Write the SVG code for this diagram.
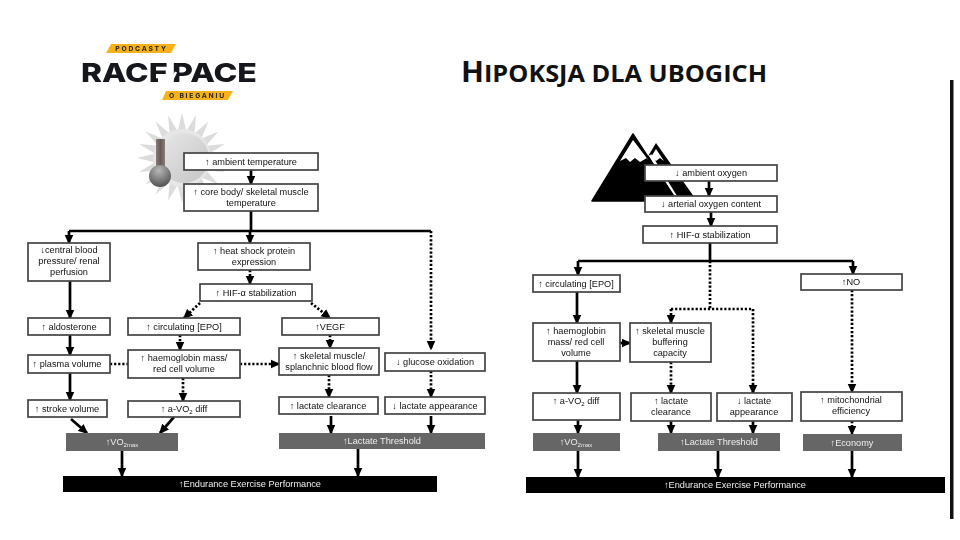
<svg xmlns="http://www.w3.org/2000/svg" xmlns:xlink="http://www.w3.org/1999/xlink" width="960" height="540" viewBox="0 0 960 540">
<style>
#art{filter:blur(0.65px)}
#logo{filter:blur(0.6px)}
.n{fill:#fff;stroke:#444;stroke-width:1.7}
.g{fill:#666}
.k{fill:#000}
.t{font:9.2px "Liberation Sans",Arial,sans-serif;fill:#111;text-anchor:middle}
.w{font:9.2px "Liberation Sans",Arial,sans-serif;fill:#eee;text-anchor:middle}
.s{fill:none;stroke:#000;stroke-width:2.7}
.d{fill:none;stroke:#000;stroke-width:2.7;stroke-dasharray:2.2 1.9}
.a{marker-end:url(#h)}
.logo{font-family:"Inter","Liberation Sans",sans-serif;font-weight:800;fill:#15171c}
.tag{font:700 6.8px "Inter","Liberation Sans",sans-serif;letter-spacing:1.75px;fill:#222;text-anchor:middle}
</style>
<defs>
<marker id="h" markerUnits="userSpaceOnUse" markerWidth="11" markerHeight="10" refX="8.5" refY="5" orient="auto"><path d="M0 .5L10 5L0 9.500Z" fill="#000"/></marker>
<linearGradient id="disk" x1="0" y1="0" x2="1" y2="1"><stop offset="0" stop-color="#e8e8e8"/><stop offset="1" stop-color="#c4c4c4"/></linearGradient>
<linearGradient id="stem" x1="0" y1="0" x2="1" y2="0"><stop offset="0" stop-color="#8a7d78"/><stop offset=".5" stop-color="#645a58"/><stop offset="1" stop-color="#8a7d78"/></linearGradient>
<radialGradient id="bulb" cx=".45" cy=".25" r=".85"><stop offset="0" stop-color="#b8b8b8"/><stop offset="1" stop-color="#454545"/></radialGradient>
<path id="sp" d="M177.500 132L182 113L186.500 132Z" fill="#dcdcdc"/>
</defs>

<g id="logo">
<path d="M111 44H176L171 53H106Z" fill="#f5b21c"/>
<text class="tag" x="141.500" y="51">PODCASTY</text>
<text class="logo" x="81" y="82" font-size="26" textLength="87" lengthAdjust="spacingAndGlyphs">RACE</text>
<path d="M158 77H170V84H158Z" fill="#fff"/>
<text class="logo" x="172" y="82" font-size="26" textLength="85" lengthAdjust="spacingAndGlyphs">PACE</text>
<path d="M176 72L170 84" stroke="#fff" stroke-width="2.500"/>
<path d="M166 91H233L228 100H162Z" fill="#f5b21c"/>
<text class="tag" x="197.500" y="98">O BIEGANIU</text>
</g>

<text id="title" x="461" y="82" font-family="'Open Sans','Liberation Sans',Arial,sans-serif" font-weight="700" font-size="28.500" fill="#111" textLength="306" lengthAdjust="spacingAndGlyphs">H<tspan font-size="24">IPOKSJA DLA UBOGICH</tspan></text>

<rect id="divider" x="950" y="80" width="3.500" height="439" fill="#111"/>

<g id="art">
<g id="sun">
<use xlink:href="#sp"/><use xlink:href="#sp" transform="rotate(18 182 158)"/><use xlink:href="#sp" transform="rotate(36 182 158)"/><use xlink:href="#sp" transform="rotate(54 182 158)"/><use xlink:href="#sp" transform="rotate(72 182 158)"/><use xlink:href="#sp" transform="rotate(90 182 158)"/><use xlink:href="#sp" transform="rotate(108 182 158)"/><use xlink:href="#sp" transform="rotate(126 182 158)"/><use xlink:href="#sp" transform="rotate(144 182 158)"/><use xlink:href="#sp" transform="rotate(162 182 158)"/><use xlink:href="#sp" transform="rotate(180 182 158)"/><use xlink:href="#sp" transform="rotate(198 182 158)"/><use xlink:href="#sp" transform="rotate(216 182 158)"/><use xlink:href="#sp" transform="rotate(234 182 158)"/><use xlink:href="#sp" transform="rotate(252 182 158)"/><use xlink:href="#sp" transform="rotate(270 182 158)"/><use xlink:href="#sp" transform="rotate(288 182 158)"/><use xlink:href="#sp" transform="rotate(306 182 158)"/><use xlink:href="#sp" transform="rotate(324 182 158)"/><use xlink:href="#sp" transform="rotate(342 182 158)"/>
<circle cx="182" cy="158" r="29" fill="#e6e6e6"/>
<circle cx="184" cy="158" r="25" fill="url(#disk)"/>
<rect x="156" y="139" width="9" height="32" fill="url(#stem)"/>
<circle cx="160" cy="176" r="11" fill="url(#bulb)"/>
</g>
<g id="mountains">
<path d="M656 143L641 168L680 201H697Z" fill="#000"/>
<path d="M656 149L651 157L656 161L660 158L664 161Z" fill="#fff"/>
<path d="M650 155L679 202" stroke="#fff" stroke-width="3" fill="none"/>
<path d="M633 134L592 201H677Z" fill="#000" stroke="#000" stroke-width="1.500" stroke-linejoin="round"/>
<path d="M633 140L620 161L626 158L630 162L635 158L640 162L647 158L649 161Z" fill="#fff"/>
</g>

<g id="connectors">
<path class="s a" d="M251 170V184"/>
<path class="s" d="M251 211V231"/>
<path class="s" d="M69 231H431"/>
<path class="s a" d="M69 231V243"/>
<path class="s a" d="M250 231V243"/>
<path class="d a" d="M431 231V349"/>
<path class="d a" d="M250 270V284"/>
<path class="d a" d="M200 303L184 318"/>
<path class="d a" d="M311 303L330 318"/>
<path class="s a" d="M70 281V318"/>
<path class="s a" d="M70 335V355"/>
<path class="s a" d="M70 373V400"/>
<path class="d a" d="M180 335V350"/>
<path class="d a" d="M330 335V348"/>
<path class="d" d="M110 364H128"/>
<path class="d a" d="M240 364H279"/>
<path class="d a" d="M183 378V401"/>
<path class="d a" d="M329 375V397"/>
<path class="d a" d="M431 371V397"/>
<path class="s a" d="M71 419L87 433"/>
<path class="s a" d="M174 417L160 433"/>
<path class="s a" d="M331 416V433"/>
<path class="s a" d="M431 416V433"/>
<path class="s a" d="M122 451V476"/>
<path class="s a" d="M358 449V476"/>

<path class="s a" d="M709 181V196"/>
<path class="s a" d="M711 212V226"/>
<path class="s" d="M710 243V261"/>
<path class="s" d="M578 261H853"/>
<path class="s a" d="M578 261V275"/>
<path class="s a" d="M853 261V274"/>
<path class="d" d="M710 261V309"/>
<path class="d" d="M671 309H753"/>
<path class="d a" d="M671 309V323"/>
<path class="d a" d="M753 309V393"/>
<path class="s a" d="M577 292V323"/>
<path class="s a" d="M577 361V393"/>
<path class="s a" d="M620 343H630"/>
<path class="d a" d="M671 362V393"/>
<path class="d a" d="M852 290V392"/>
<path class="s a" d="M578 420V433"/>
<path class="s a" d="M671 421V433"/>
<path class="s a" d="M753 421V433"/>
<path class="d a" d="M852 421V434"/>
<path class="s a" d="M578 451V477"/>
<path class="s a" d="M718 450V477"/>
<path class="s a" d="M852 451V477"/>
</g>

<g id="n1"><rect class="n" x="184" y="153" width="134" height="17"/><text class="t" x="251" y="164.500">↑ ambient temperature</text></g>
<g id="n2"><rect class="n" x="184" y="184" width="134" height="27"/><text class="t" x="251" y="195">↑ core body/ skeletal muscle</text><text class="t" x="251" y="206">temperature</text></g>
<g id="n3"><rect class="n" x="28" y="243" width="82" height="38"/><text class="t" x="69" y="253">↓central blood</text><text class="t" x="69" y="264">pressure/ renal</text><text class="t" x="69" y="275">perfusion</text></g>
<g id="n4"><rect class="n" x="198" y="243" width="112" height="27"/><text class="t" x="254" y="253.500">↑ heat shock protein</text><text class="t" x="254" y="264.500">expression</text></g>
<g id="n5"><rect class="n" x="200" y="284" width="112" height="17"/><text class="t" x="256" y="295.500">↑ HIF-α stabilization</text></g>
<g id="n6"><rect class="n" x="28" y="318" width="82" height="17"/><text class="t" x="69" y="329.500">↑ aldosterone</text></g>
<g id="n7"><rect class="n" x="128" y="318" width="112" height="17"/><text class="t" x="184" y="329.500">↑ circulating [EPO]</text></g>
<g id="n8"><rect class="n" x="282" y="318" width="97" height="17"/><text class="t" x="330" y="329.500">↑VEGF</text></g>
<g id="n9"><rect class="n" x="28" y="355" width="82" height="18"/><text class="t" x="67" y="367">↑ plasma volume</text></g>
<g id="n10"><rect class="n" x="128" y="350" width="112" height="28"/><text class="t" x="184" y="361">↑ haemoglobin mass/</text><text class="t" x="184" y="372">red cell volume</text></g>
<g id="n11"><rect class="n" x="279" y="348" width="100" height="27"/><text class="t" x="329" y="359">↑ skeletal muscle/</text><text class="t" x="329" y="370">splanchnic blood flow</text></g>
<g id="n12"><rect class="n" x="385" y="353" width="100" height="18"/><text class="t" x="435" y="365">↓ glucose oxidation</text></g>
<g id="n13"><rect class="n" x="28" y="400" width="79" height="17"/><text class="t" x="67" y="411.500">↑ stroke volume</text></g>
<g id="n14"><rect class="n" x="128" y="401" width="112" height="16"/><text class="t" x="184" y="412">↑ a-VO<tspan font-size="6" dy="2">2</tspan><tspan dy="-2"> diff</tspan></text></g>
<g id="n15"><rect class="n" x="279" y="397" width="99" height="17"/><text class="t" x="328" y="408.500">↑ lactate clearance</text></g>
<g id="n16"><rect class="n" x="385" y="397" width="100" height="17"/><text class="t" x="435" y="408.500">↓ lactate appearance</text></g>
<g id="n17"><rect class="g" x="66" y="433" width="112" height="18"/><text class="w" x="122" y="445">↑VO<tspan font-size="6" dy="2">2max</tspan></text></g>
<g id="n18"><rect class="g" x="279" y="433" width="206" height="16"/><text class="w" x="382" y="444">↑Lactate Threshold</text></g>
<g id="n19"><rect class="k" x="63" y="476" width="374" height="16"/><text class="w" x="250" y="487">↑Endurance Exercise Performance</text></g>

<g id="r1"><rect class="n" x="645" y="165" width="132" height="16"/><text class="t" x="711" y="176">↓ ambient oxygen</text></g>
<g id="r2"><rect class="n" x="645" y="196" width="132" height="16"/><text class="t" x="711" y="207">↓ arterial oxygen content</text></g>
<g id="r3"><rect class="n" x="643" y="226" width="134" height="17"/><text class="t" x="710" y="237.500">↑ HIF-α stabilization</text></g>
<g id="r4"><rect class="n" x="533" y="275" width="87" height="17"/><text class="t" x="576" y="286.500">↑ circulating [EPO]</text></g>
<g id="r5"><rect class="n" x="801" y="274" width="101" height="16"/><text class="t" x="851" y="285">↑NO</text></g>
<g id="r6"><rect class="n" x="533" y="323" width="87" height="38"/><text class="t" x="576" y="334">↑ haemoglobin</text><text class="t" x="576" y="345">mass/ red cell</text><text class="t" x="576" y="356">volume</text></g>
<g id="r7"><rect class="n" x="630" y="323" width="81" height="39"/><text class="t" x="670" y="334">↑ skeletal muscle</text><text class="t" x="670" y="345">buffering</text><text class="t" x="670" y="356">capacity</text></g>
<g id="r8"><rect class="n" x="533" y="393" width="87" height="27"/><text class="t" x="576" y="404">↑ a-VO<tspan font-size="6" dy="2">2</tspan><tspan dy="-2"> diff</tspan></text></g>
<g id="r9"><rect class="n" x="631" y="393" width="80" height="28"/><text class="t" x="671" y="404">↑ lactate</text><text class="t" x="671" y="415">clearance</text></g>
<g id="r10"><rect class="n" x="717" y="393" width="75" height="28"/><text class="t" x="754" y="404">↓ lactate</text><text class="t" x="754" y="415">appearance</text></g>
<g id="r11"><rect class="n" x="801" y="392" width="101" height="29"/><text class="t" x="851" y="403">↑ mitochondrial</text><text class="t" x="851" y="414">efficiency</text></g>
<g id="r12"><rect class="g" x="533" y="433" width="87" height="18"/><text class="w" x="576" y="445">↑VO<tspan font-size="6" dy="2">2max</tspan></text></g>
<g id="r13"><rect class="g" x="658" y="433" width="122" height="18"/><text class="w" x="719" y="445">↑Lactate Threshold</text></g>
<g id="r14"><rect class="g" x="803" y="434" width="99" height="17"/><text class="w" x="852" y="445.500">↑Economy</text></g>
<g id="r15"><rect class="k" x="526" y="477" width="419" height="16"/><text class="w" x="735" y="488">↑Endurance Exercise Performance</text></g>
</g>
</svg>
